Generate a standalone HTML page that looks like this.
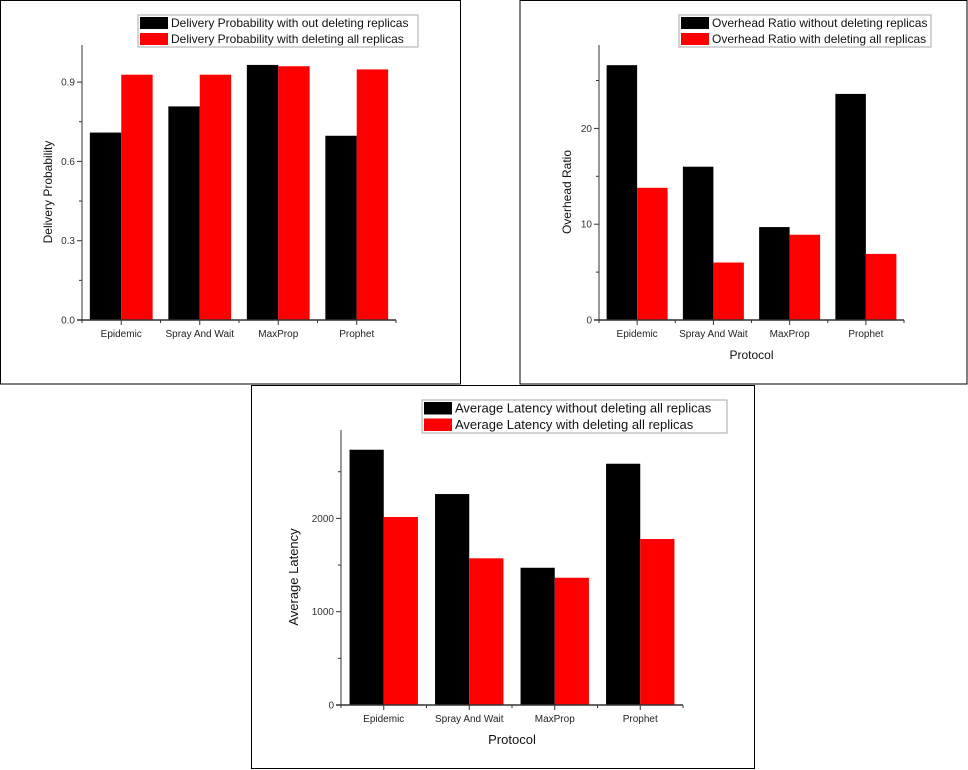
<!DOCTYPE html>
<html><head><meta charset="utf-8"><style>
body{margin:0;background:#fff;}
svg{display:block;font-family:"Liberation Sans",Arial,sans-serif;}
</style></head><body>
<svg id="fig" width="968" height="770" viewBox="0 0 968 770" xmlns="http://www.w3.org/2000/svg">
<rect x="0" y="0" width="968" height="770" fill="#fff"/>
<rect x="0.5" y="0.5" width="460" height="383.5" fill="none" stroke="#000"/>
<rect x="520" y="0.5" width="447" height="383.5" fill="none" stroke="#000"/>
<rect x="251.5" y="385.5" width="503" height="383" fill="none" stroke="#000"/>
</svg>
<script>
const categories = ["Epidemic","Spray And Wait","MaxProp","Prophet"];
const deliveryWithout = [0.709,0.808,0.965,0.697];
const deliveryWith = [0.928,0.928,0.960,0.948];
const deliveryTicks = ["0.0","0.3","0.6","0.9"];
const overheadWithout = [26.6,16.0,9.7,23.6];
const overheadWith = [13.8,6.0,8.9,6.9];
const overheadTicks = ["0","10","20"];
const latencyWithout = [2736,2261,1471,2586];
const latencyWith = [2015,1572,1364,1779];
const latencyTicks = ["0","1000","2000"];

const svg = document.getElementById('fig');
const NS = 'http://www.w3.org/2000/svg';
function mk(tag, attrs, parent){
  const e = document.createElementNS(NS, tag);
  for (const k in attrs) e.setAttribute(k, attrs[k]);
  (parent||svg).appendChild(e);
  return e;
}

function drawChart(o){
  const g = mk('g', {});
  
  
  const tickVals = o.ticks.map(Number);
  const step = tickVals[1]-tickVals[0];
  const y = v => o.y0 - (v/step)*o.pxPerStep;
  const cw = (o.x1-o.x0)/categories.length;
  const xc = i => o.x0 + cw*(i+0.5);
  const bw = cw*0.4;
  // bars
  categories.forEach((c,i)=>{
    const b1 = mk('rect',{x:xc(i)-bw, y:y(o.s1[i]), width:bw, height:o.y0-y(o.s1[i]), fill:'#000'}, g);
    
    
    const b2 = mk('rect',{x:xc(i), y:y(o.s2[i]), width:bw, height:o.y0-y(o.s2[i]), fill:'#f00'}, g);
    
    
  });
  // axes
  const ya = mk('line',{x1:o.x0,y1:o.top,x2:o.x0,y2:o.y0+1,stroke:'#333','stroke-width':1}, g);
  
  
  const xa = mk('line',{x1:o.x0-5,y1:o.y0,x2:o.x1,y2:o.y0,stroke:'#333','stroke-width':1.5}, g);
  
  
  // y ticks
  let v = 0;
  while (y(v) >= o.top) {
    mk('line',{x1:o.x0-(Math.abs(v/step-Math.round(v/step))<1e-6?5:3),y1:y(v),x2:o.x0,y2:y(v),stroke:'#333'}, g);
    v += step/2;
  }
  o.ticks.forEach((t)=>{
    const tx = mk('text',{x:o.x0-7,y:y(Number(t))+3.5,'text-anchor':'end','font-size':10,fill:'#333'}, g);
    tx.textContent = t;
    
    
  });
  // x ticks
  for (let i=0;i<=categories.length;i++){
    mk('line',{x1:o.x0+cw*i,y1:o.y0,x2:o.x0+cw*i,y2:o.y0+3,stroke:'#333'}, g);
  }
  categories.forEach((c,i)=>{
    mk('line',{x1:xc(i),y1:o.y0,x2:xc(i),y2:o.y0+5,stroke:'#333'}, g);
    const tx = mk('text',{x:xc(i),y:o.y0+17,'text-anchor':'middle','font-size':10,fill:'#222'}, g);
    tx.textContent = c;
    
    
  });
  // y title
  const yt = mk('text',{x:o.ylx,y:o.yly,'text-anchor':'middle','font-size':o.fs,fill:'#111',transform:'rotate(-90 '+o.ylx+' '+o.yly+')'}, g);
  yt.textContent = o.ytitle;
  
  
  if (o.xtitle){
    const xt = mk('text',{x:(o.x0+o.x1)/2,y:o.y0+39,'text-anchor':'middle','font-size':o.fs,fill:'#111'}, g);
    xt.textContent = o.xtitle;
    
    
  }
  // legend
  const L = o.leg;
  const lb = mk('rect',{x:L.x,y:L.y,width:L.w,height:L.h,fill:'#fff',stroke:'#aaa'}, g);
  
  
  [[o.l1,'#000'],[o.l2,'#f00']].forEach((it,k)=>{
    const ry = L.y+2+k*L.h/2;
    mk('rect',{x:L.x+2,y:ry,width:28,height:L.h/2-4,fill:it[1]}, g);
    const tx = mk('text',{x:L.x+33,y:ry+L.h/2-6,'font-size':o.lfs,fill:'#111'}, g);
    tx.textContent = it[0];
    
    
  });
}

drawChart({name:'delivery-chart', x0:82, x1:396, y0:320, top:45, pxPerStep:79.3, ticks:deliveryTicks,
  s1:deliveryWithout, s2:deliveryWith, ylx:52, yly:192, ytitle:'Delivery Probability', fs:12, lfs:12,
  l1:'Delivery Probability with out deleting replicas', l2:'Delivery Probability with deleting all replicas',
  leg:{x:138,y:15,w:280,h:32}});
drawChart({name:'overhead-chart', x0:599, x1:904, y0:320, top:45, pxPerStep:95.8, ticks:overheadTicks,
  s1:overheadWithout, s2:overheadWith, ylx:571, yly:192, ytitle:'Overhead Ratio', xtitle:'Protocol', fs:12, lfs:12,
  l1:'Overhead Ratio without deleting replicas', l2:'Overhead Ratio with deleting all replicas',
  leg:{x:679,y:15,w:252,h:32}});
drawChart({name:'latency-chart', x0:341, x1:683, y0:705, top:430, pxPerStep:93.3, ticks:latencyTicks,
  s1:latencyWithout, s2:latencyWith, ylx:298, yly:577, ytitle:'Average Latency', xtitle:'Protocol', fs:13, lfs:13,
  l1:'Average Latency without deleting all replicas', l2:'Average Latency with deleting all replicas',
  leg:{x:422,y:400,w:305,h:33}});
</script>
</body></html>
